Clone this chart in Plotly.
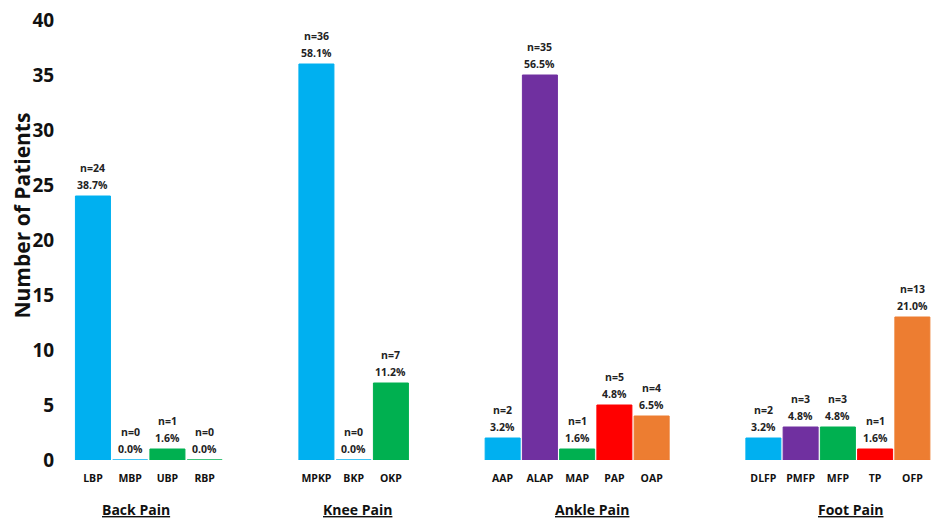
import plotly.graph_objects as go

# ---- data ----
groups = ["Back Pain", "Knee Pain", "Ankle Pain", "Foot Pain"]
back_cats = ["LBP", "MBP", "UBP", "RBP"]
back_n = [24, 0, 1, 0]
back_pct = ["38.7%", "0.0%", "1.6%", "0.0%"]
knee_cats = ["MPKP", "BKP", "OKP"]
knee_n = [36, 0, 7]
knee_pct = ["58.1%", "0.0%", "11.2%"]
ankle_cats = ["AAP", "ALAP", "MAP", "PAP", "OAP"]
ankle_n = [2, 35, 1, 5, 4]
ankle_pct = ["3.2%", "56.5%", "1.6%", "4.8%", "6.5%"]
foot_cats = ["DLFP", "PMFP", "MFP", "TP", "OFP"]
foot_n = [2, 3, 3, 1, 13]
foot_pct = ["3.2%", "4.8%", "4.8%", "1.6%", "21.0%"]
y_ticks = [0, 5, 10, 15, 20, 25, 30, 35, 40]

BLUE, PURPLE, GREEN, RED, ORANGE = "#00B0F0", "#7030A0", "#00B050", "#FF0000", "#ED7D31"
back_col = [BLUE, BLUE, GREEN, GREEN]
knee_col = [BLUE, BLUE, GREEN]
ankle_col = [BLUE, PURPLE, GREEN, RED, ORANGE]
foot_col = [BLUE, PURPLE, GREEN, RED, ORANGE]

all_cats = [back_cats, knee_cats, ankle_cats, foot_cats]
all_n = [back_n, knee_n, ankle_n, foot_n]
all_pct = [back_pct, knee_pct, ankle_pct, foot_pct]
all_col = [back_col, knee_col, ankle_col, foot_col]

GAP = 2  # empty slots between groups
FONT = "Open Sans"
GROUP_LABEL_SHIFT = [-13, 4, 15, 13]  # pixel nudges for the group titles

xs, ys, labels, cols, pcts = [], [], [], [], []
group_centers = []
pos = 0
for cats, ns, pc, cl in zip(all_cats, all_n, all_pct, all_col):
    start = pos
    for c, n, p, col in zip(cats, ns, pc, cl):
        xs.append(pos); ys.append(n); labels.append(c); cols.append(col); pcts.append(p)
        pos += 1
    group_centers.append((start + pos - 1) / 2)
    pos += GAP

fig = go.Figure()
fig.add_trace(go.Bar(
    x=xs, y=ys, width=0.94,
    marker=dict(color=cols, line=dict(color=cols, width=1)),
    hoverinfo="skip",
))

annotations = []
for x, y, n, p in zip(xs, ys, ys, pcts):
    annotations.append(dict(x=x, y=y, xref="x", yref="y", text=f"<b>{p}</b>",
                            showarrow=False, yanchor="bottom", yshift=2,
                            font=dict(family=FONT, size=10.5, color="#222")))
    annotations.append(dict(x=x, y=y, xref="x", yref="y", text=f"<b>n={n}</b>",
                            showarrow=False, yanchor="bottom", yshift=19,
                            font=dict(family=FONT, size=10.5, color="#222")))
for g, cx, sh in zip(groups, group_centers, GROUP_LABEL_SHIFT):
    annotations.append(dict(x=cx, y=-0.1136, xref="x", yref="paper", xshift=sh,
                            text=f"<b><u>{g}</u></b>", showarrow=False,
                            yanchor="middle",
                            font=dict(family=FONT, size=14, color="#111")))
# y-axis title
annotations.append(dict(x=-0.05, y=0.555, xref="paper", yref="paper",
                        text="<b>Number of Patients</b>", textangle=-90,
                        showarrow=False, xanchor="center", yanchor="middle",
                        font=dict(family=FONT, size=21, color="#111")))

fig.update_layout(
    width=923, height=512,
    margin=dict(l=57, r=0, t=12, b=60),
    plot_bgcolor="white", paper_bgcolor="white",
    showlegend=False,
    annotations=annotations,
    font=dict(family=FONT, color="#111"),
)
fig.update_xaxes(
    range=[-0.75, 22.5], tickmode="array", tickvals=xs,
    ticktext=[f"<b>{l}</b>" for l in labels],
    tickfont=dict(family=FONT, size=10.5, color="#111"),
    ticks="outside", ticklen=8, tickcolor="rgba(0,0,0,0)",
    showgrid=False, zeroline=False, showline=False,
)
fig.update_yaxes(
    range=[0, 40], tickmode="array", tickvals=y_ticks,
    ticktext=[f"<b>{v}</b>" for v in y_ticks],
    tickfont=dict(family=FONT, size=19, color="#111"),
    ticks="outside", ticklen=6, tickcolor="rgba(0,0,0,0)",
    ticklabeloverflow="allow",
    showgrid=False, zeroline=False, showline=False,
)

fig.write_html("out.html")
